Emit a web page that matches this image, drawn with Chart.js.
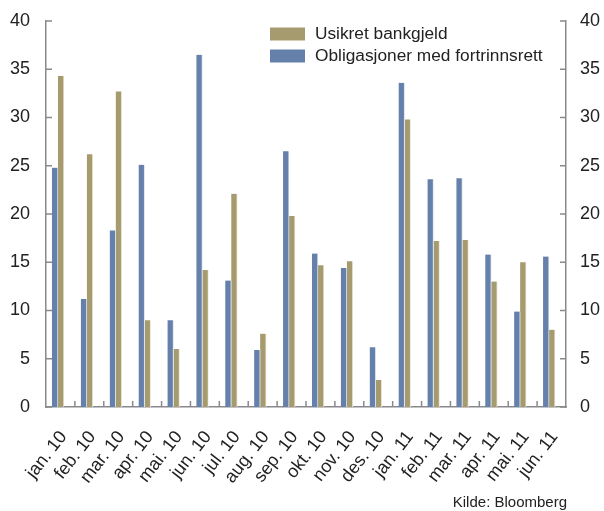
<!DOCTYPE html>
<html><head><meta charset="utf-8">
<script src="https://cdn.jsdelivr.net/npm/chart.js@4/dist/chart.umd.min.js"></script>
<style>html,body{margin:0;padding:0;background:#fff}#wrap{width:604px;height:511px}</style>
</head><body><div id="wrap"><canvas id="c" width="604" height="511"></canvas></div>
<script>
const categories = ['jan. 10','feb. 10','mar. 10','apr. 10','mai. 10','jun. 10','jul. 10','aug. 10','sep. 10','okt. 10','nov. 10','des. 10','jan. 11','feb. 11','mar. 11','apr. 11','mai. 11','jun. 11'];
const obligasjoner = [24.8,11.2,18.3,25.1,9.0,36.5,13.1,5.9,26.5,15.9,14.4,6.2,33.6,23.6,23.7,15.8,9.9,15.6];
const usikret = [34.3,26.2,32.7,9.0,6.0,14.2,22.1,7.6,19.8,14.7,15.1,2.8,29.8,17.2,17.3,13.0,15.0,8.0];
const yTickValues = [0,5,10,15,20,25,30,35,40];
const seriesLabels = ['Obligasjoner med fortrinnsrett','Usikret bankgjeld'];
const source = 'Kilde: Bloomberg';

const FONT = "'Liberation Sans', Arial, sans-serif";
const BLUE = '#6581ab';
const OLIVE = '#a69b6f';
const AXIS = '#8a8a8e';

const shiftPlugin = {
  id: 'shiftBars',
  beforeDatasetsDraw(chart) { chart.ctx.save(); chart.ctx.translate(-2.5, 0); },
  afterDatasetsDraw(chart) { chart.ctx.restore(); }
};

const tickPlugin = {
  id: 'inwardTicks',
  afterDraw(chart) {
    const ctx = chart.ctx;
    const x = chart.scales.x, y = chart.scales.y, y2 = chart.scales.y2;
    const ca = chart.chartArea;
    ctx.save();
    ctx.strokeStyle = AXIS;
    ctx.lineWidth = 1.5;
    ctx.beginPath();
    yTickValues.forEach(v => {
      const py = y.getPixelForValue(v);
      ctx.moveTo(ca.left, py); ctx.lineTo(ca.left + 6, py);
      const py2 = y2.getPixelForValue(v);
      ctx.moveTo(ca.right, py2); ctx.lineTo(ca.right - 6, py2);
    });
    for (let i = 1; i < categories.length; i++) {
      const px = (x.getPixelForValue(i - 1) + x.getPixelForValue(i)) / 2;
      ctx.moveTo(px, ca.bottom); ctx.lineTo(px, ca.bottom - 6);
    }
    ctx.stroke();
    // legend
    const items = [
      {label: seriesLabels[1], color: chart.data.datasets[1].backgroundColor},
      {label: seriesLabels[0], color: chart.data.datasets[0].backgroundColor}
    ];
    ctx.font = '17.3px ' + FONT;
    ctx.textBaseline = 'middle';
    ctx.textAlign = 'left';
    items.forEach((it, i) => {
      const cy = 34 + i * 22;
      ctx.fillStyle = it.color;
      ctx.fillRect(270, cy - 6.5, 35, 13);
      ctx.fillStyle = '#222';
      ctx.fillText(it.label, 315, cy);
    });
    ctx.font = '15px ' + FONT;
    ctx.textAlign = 'right';
    ctx.textBaseline = 'alphabetic';
    ctx.fillStyle = '#222';
    ctx.fillText(source, 567, 507);
    ctx.restore();
  }
};

function fitY(width) {
  return function(s) { s.width = width; s.paddingTop = 0; s.paddingBottom = 0; };
}

new Chart(document.getElementById('c'), {
  type: 'bar',
  data: {
    labels: categories,
    datasets: [
      {label: seriesLabels[0], data: obligasjoner, backgroundColor: BLUE, borderColor: '#dde4ee', borderWidth: {right: 1}, barThickness: 6},
      {label: seriesLabels[1], data: usikret, backgroundColor: OLIVE, borderColor: '#ece7d8', borderWidth: {right: 1}, barThickness: 6}
    ]
  },
  options: {
    responsive: false,
    devicePixelRatio: 1,
    animation: false,
    layout: {padding: {top: 21, left: 0, right: 0, bottom: 0}},
    plugins: {legend: {display: false}, tooltip: {enabled: false}},
    scales: {
      x: {
        grid: {display: false, drawTicks: false},
        border: {display: true, color: AXIS, width: 1.5},
        ticks: {color: '#222', font: {family: FONT, size: 18}, minRotation: 52, maxRotation: 52, padding: 20, labelOffset: 3, autoSkip: false},
        afterFit(s) { s.height = 104; }
      },
      y: {
        position: 'left', min: 0, max: 40,
        grid: {display: false, drawTicks: false},
        border: {display: true, color: AXIS, width: 1.5},
        ticks: {stepSize: 5, color: '#222', font: {family: FONT, size: 18}, padding: 16},
        afterFit: fitY(46)
      },
      y2: {
        position: 'right', min: 0, max: 40,
        grid: {display: false, drawTicks: false},
        border: {display: true, color: AXIS, width: 1.5},
        ticks: {stepSize: 5, color: '#222', font: {family: FONT, size: 18}, padding: 14},
        afterFit: fitY(38)
      }
    }
  },
  plugins: [shiftPlugin, tickPlugin]
});
</script>
</body></html>
